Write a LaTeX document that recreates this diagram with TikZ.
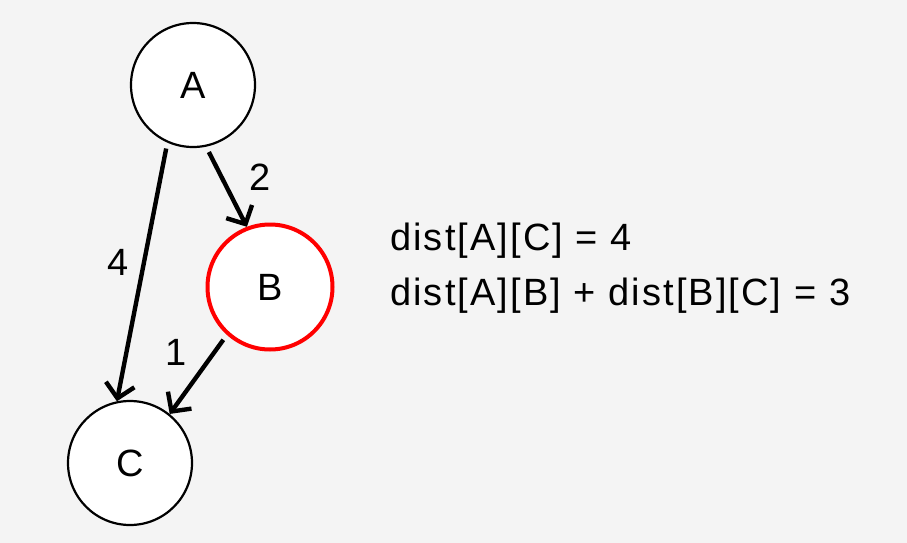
\documentclass[tikz,border=0pt]{standalone}
\usepackage{fontspec}
\setmainfont{Liberation Sans}
\newfontfamily\widefont[LetterSpace=5.5]{Liberation Sans}
\usetikzlibrary{arrows.meta}
\definecolor{bg}{HTML}{F4F4F4}
\begin{document}
\begin{tikzpicture}[x=1pt,y=-1pt,
  vert/.style={circle,draw=black,line width=2.2pt,fill=white,minimum size=124pt,inner sep=0pt,font=\fontsize{38}{40}\selectfont},
  hot/.style={draw=red,line width=4pt},
  edge/.style={line width=4.4pt,-{Straight Barb[length=14pt,width=29pt,line width=4.4pt]},shorten <=6pt},
  lbl/.style={font=\fontsize{38}{40}\selectfont},
  txt/.style={anchor=base west,font=\widefont\fontsize{38}{40}\selectfont,inner sep=0pt}]
\fill[bg] (0,0) rectangle (907,543);
\useasboundingbox (0,0) rectangle (907,543);
\node[vert] (A) at (193,85) {A};
\node[vert,hot,minimum size=125pt] (B) at (270,287) {B};
\node[vert] (C) at (130,463) {C};
\draw[edge] (A.246.7) -- (C.102);
\draw[edge] (A.282.2) -- (B.111);
\draw[edge] (B.228.7) -- (C.51.3);
\node[lbl] (l4) at (118,262) {4};
\node[lbl] (l2) at (260,177) {2};
\node[lbl] (l1) at (176,352) {1};
\node[txt] (t1) at (390,250) {dist[A][C] = 4};
\node[txt] (t2) at (390,305) {dist[A][B] + dist[B][C] = 3};
\end{tikzpicture}
\end{document}
